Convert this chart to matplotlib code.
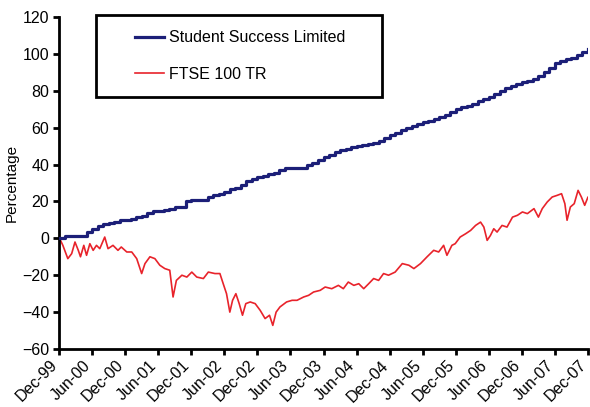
import matplotlib
matplotlib.use("Agg")
import matplotlib.pyplot as plt
from matplotlib.patches import Rectangle
from matplotlib.lines import Line2D
import matplotlib.transforms as mtransforms

plt.rcParams['font.family'] = ['Liberation Sans', 'DejaVu Sans']

# ---- data ----
tick_labels = ["Dec-99", "Jun-00", "Dec-00", "Jun-01", "Dec-01", "Jun-02", "Dec-02",
               "Jun-03", "Dec-03", "Jun-04", "Dec-04", "Jun-05", "Dec-05", "Jun-06",
               "Dec-06", "Jun-07", "Dec-07"]

# Student Success Limited: monthly values, months since Dec-99
ssl_values = [0, 1, 1, 1, 1, 3.5, 5, 6.5, 8, 8.5, 9, 9.8, 10, 10.5, 11.5, 12, 13.5,
              14.6, 15, 15.5, 16, 17, 17, 20.5, 21, 21, 21, 22.5, 23.7, 24.3, 25, 26.5,
              27.5, 29, 31, 32.3, 33.2, 34, 35, 35.6, 37, 38, 38.1, 38.1, 38.2, 39.5,
              41, 42.5, 44, 45, 46.8, 47.7, 48.5, 49.3, 49.9, 50.5, 51, 51.5, 53, 54.5,
              55.8, 57.3, 58.8, 60, 61, 62, 63, 63.8, 64.8, 65.7, 67, 68.5, 70, 71, 72,
              73, 74.2, 75.4, 76.6, 78.2, 80, 81.3, 82.6, 83.5, 84.5, 85.5, 86.4, 88,
              90, 92.5, 95, 96, 97, 98, 99.2, 100.8, 102.5]
ssl_months = list(range(len(ssl_values)))

# FTSE 100 TR: (months since Dec-99, percentage)
ftse_months = [0, 0.1, 0.7, 1.6, 2.3, 2.9, 3.5, 3.9, 4.5, 5, 5.6, 6.2, 6.8, 7.4, 8.3,
               8.9, 9.8, 10.7, 11.3, 12.3, 13.2, 14.1, 15, 15.6, 16.5, 17.4, 18.3,
               19.2, 20.1, 20.7, 21.3, 22.3, 23.2, 24.1, 25, 26.2, 27.1, 28.3, 29.2,
               29.8, 30.4, 31, 31.5, 32.1, 32.7, 33.3, 33.9, 34.7, 35.6, 36.5, 37.4,
               38.2, 38.8, 39.4, 40.1, 41.3, 42.3, 43.2, 44.4, 45.3, 46.2, 47.4, 48.3,
               49.5, 50.7, 51.6, 52.5, 53.5, 54.4, 55.3, 56.2, 57.1, 58, 58.9, 59.8,
               61, 62.3, 63.5, 64.4, 65.6, 66.8, 68, 68.9, 69.8, 70.4, 71.3, 71.9,
               72.8, 73.8, 74.7, 75.6, 76.5, 77.1, 77.7, 78.3, 78.9, 79.5, 80.4, 81.3,
               82.3, 83.2, 84.1, 85, 86.2, 87, 87.7, 88.6, 89.5, 90.4, 91.2, 91.8,
               92.2, 92.8, 93.5, 94.2, 94.8, 95.4, 96, 96.5]
ftse_values = [0, 0, -3.8, -11, -8.3, -2, -6.5, -10, -3.8, -9.2, -2.9, -6.5, -3.8,
               -5.6, 0.7, -5.6, -3.8, -6.5, -4.7, -7.4, -7.4, -11, -19.1, -13.7, -10,
               -11, -14.6, -16.4, -17.3, -31.8, -22.8, -20, -21, -18.3, -21, -21.8,
               -18.3, -19.1, -19.1, -24.6, -30, -40, -33.6, -30, -35.4, -41.7, -35.4,
               -34.5, -35.4, -39, -43.5, -41.7, -47.2, -40, -37.2, -34.5, -33.6, -33.6,
               -31.8, -30.9, -29.1, -28.2, -26.4, -27.3, -25.5, -27.3, -23.7, -25.5,
               -24.6, -27.3, -24.6, -21.8, -22.8, -19.1, -20, -18.3, -13.7, -14.6,
               -16.4, -13.7, -10, -6.5, -7.4, -3.8, -9.2, -3.8, -2.9, 0.7, 2.5, 4.3,
               7, 8.8, 6.1, -1.1, 1.6, 5.2, 3.4, 7, 6.1, 11.5, 12.5, 14.3, 13.4, 16.1,
               11.5, 16.1, 19.7, 22.4, 23.3, 24.2, 18.8, 9.8, 17, 18.8, 26, 22.4, 17.9,
               22.4, 19.7]

# ---- figure ----
W, H = 590, 407
fig = plt.figure(figsize=(W / 100, H / 100), dpi=100)
ax = fig.add_axes([59 / W, 1 - 349 / H, (588 - 59) / W, (349 - 17) / H])

blue = '#1c1f78'
red = '#e8232b'
ax.plot(ftse_months, ftse_values, color=red, lw=1.2, label='FTSE 100 TR', zorder=2)
ax.plot(ssl_months, ssl_values, color=blue, lw=2.3, drawstyle='steps-post',
        label='Student Success Limited', zorder=3)

ax.set_xlim(0, 96)
ax.set_ylim(-60, 120)
ax.set_yticks(range(-60, 121, 20))
ax.set_xticks(range(0, 97, 6))

for s in ['top', 'right']:
    ax.spines[s].set_visible(False)
for s in ['left', 'bottom']:
    ax.spines[s].set_linewidth(2)
    ax.spines[s].set_color('black')
ax.tick_params(axis='both', direction='out', length=4, width=2, labelsize=11.5,
               colors='black')
ax.tick_params(axis='x', pad=6)
ax.tick_params(axis='y', pad=3)
ax.set_ylabel('Percentage', fontsize=11, labelpad=2)

ax.set_xticklabels(tick_labels, rotation=45, ha='right', va='center',
                   rotation_mode='anchor')
offset = mtransforms.ScaledTranslation(-4 / 100, 0, fig.dpi_scale_trans)
for lbl in ax.get_xticklabels():
    lbl.set_transform(lbl.get_transform() + offset)

# legend with a plain black frame
handles = [Line2D([], [], color=blue, lw=2.3), Line2D([], [], color=red, lw=1.2)]
leg = fig.legend(handles, ['Student Success Limited', 'FTSE 100 TR'],
                 loc='upper left', bbox_to_anchor=(121 / W, 1 - 16 / H),
                 frameon=False, fontsize=11.5, handlelength=1.8,
                 handletextpad=0.3, labelspacing=1.35, borderpad=0.4)
fig.patches.append(Rectangle((96 / W, 1 - 97 / H), (382 - 96) / W, (97 - 15) / H,
                             transform=fig.transFigure, fill=False,
                             edgecolor='black', lw=2, zorder=5))

fig.savefig('out.png', dpi=100)
